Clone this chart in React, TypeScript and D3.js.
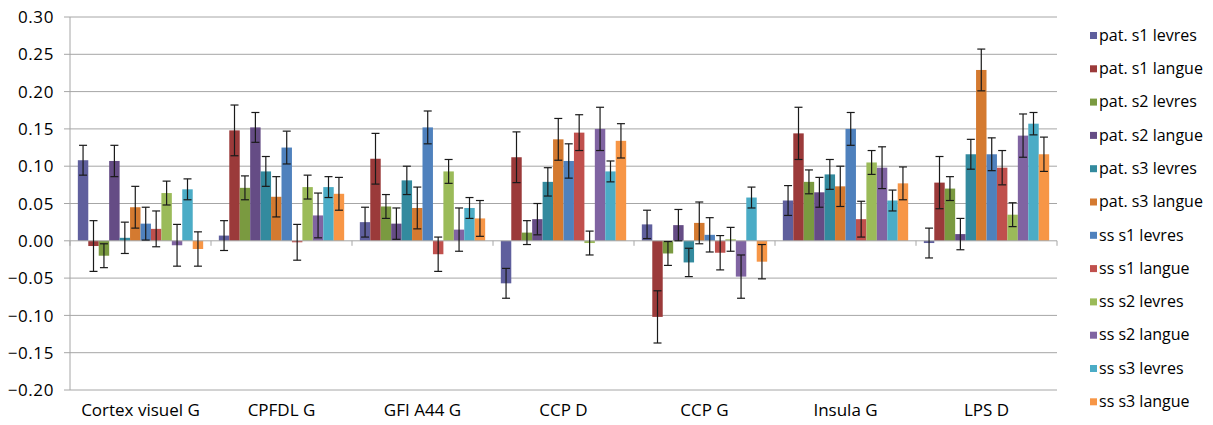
import React from "react";
import * as d3 from "d3";

const categories = ["Cortex visuel G", "CPFDL G", "GFI A44 G", "CCP D", "CCP G", "Insula G", "LPS D"];
const seriesNames = [
  "pat. s1 levres", "pat. s1 langue", "pat. s2 levres", "pat. s2 langue",
  "pat. s3 levres", "pat. s3 langue", "ss s1 levres", "ss s1 langue",
  "ss s2 levres", "ss s2 langue", "ss s3 levres", "ss s3 langue",
];
const colors = [
  "#5F5F9D", "#9B3A3A", "#7A9A40", "#654C85", "#338A9E", "#D47A30",
  "#4F81BD", "#C0504D", "#9BBB59", "#8064A2", "#4BACC6", "#F79646",
];
// values[series][category]
const values = [
  [0.108, 0.007, 0.025, -0.057, 0.022, 0.054, -0.003],
  [-0.007, 0.148, 0.110, 0.112, -0.102, 0.144, 0.078],
  [-0.020, 0.071, 0.046, 0.011, -0.017, 0.079, 0.070],
  [0.107, 0.152, 0.023, 0.029, 0.021, 0.065, 0.009],
  [0.004, 0.093, 0.081, 0.079, -0.029, 0.089, 0.116],
  [0.045, 0.059, 0.044, 0.136, 0.024, 0.073, 0.229],
  [0.023, 0.125, 0.152, 0.107, 0.008, 0.150, 0.116],
  [0.016, -0.002, -0.018, 0.145, -0.016, 0.029, 0.098],
  [0.064, 0.072, 0.093, -0.003, 0.002, 0.105, 0.035],
  [-0.006, 0.034, 0.015, 0.150, -0.048, 0.098, 0.141],
  [0.069, 0.072, 0.044, 0.093, 0.058, 0.054, 0.157],
  [-0.011, 0.063, 0.030, 0.134, -0.028, 0.077, 0.116],
];
const errors = [
  [0.020, 0.020, 0.020, 0.020, 0.019, 0.020, 0.020],
  [0.034, 0.034, 0.034, 0.034, 0.035, 0.035, 0.035],
  [0.016, 0.016, 0.016, 0.016, 0.016, 0.016, 0.016],
  [0.021, 0.020, 0.021, 0.021, 0.021, 0.020, 0.021],
  [0.021, 0.020, 0.019, 0.019, 0.019, 0.020, 0.020],
  [0.028, 0.027, 0.028, 0.028, 0.028, 0.027, 0.028],
  [0.022, 0.022, 0.022, 0.023, 0.023, 0.022, 0.022],
  [0.024, 0.024, 0.023, 0.024, 0.023, 0.024, 0.023],
  [0.016, 0.016, 0.016, 0.016, 0.016, 0.016, 0.016],
  [0.028, 0.030, 0.029, 0.029, 0.029, 0.028, 0.029],
  [0.014, 0.014, 0.014, 0.014, 0.014, 0.014, 0.015],
  [0.023, 0.022, 0.024, 0.023, 0.023, 0.022, 0.023],
];
const yTicks = [0.3, 0.25, 0.2, 0.15, 0.1, 0.05, 0, -0.05, -0.1, -0.15, -0.2];

const W = 1213, H = 425;
const plot = { left: 70, right: 1057, top: 17, bottom: 390 };
const FONT = "'Open Sans', sans-serif";

export default function App() {
  const y = d3.scaleLinear().domain([-0.2, 0.3]).range([plot.bottom, plot.top]);
  const x0 = d3.scaleBand<string>().domain(categories).range([plot.left, plot.right]).paddingInner(0).paddingOuter(0);
  const bw = x0.bandwidth() / (seriesNames.length + 1.5);
  const x1 = d3.scaleBand<number>().domain(d3.range(seriesNames.length)).range([0.75 * bw, x0.bandwidth() - 0.75 * bw]).padding(0);
  const fmt = d3.format(".2f");
  const zeroY = y(0);
  const grid = "#A6A6A6";

  return (
    <div style={{ position: "absolute", left: 0, top: 0 }}>
      <svg width={W} height={H} style={{ display: "block", background: "#fff" }} fontFamily={FONT}>
        {yTicks.map((t) => (
          <g key={t}>
            {t !== 0 && <line x1={plot.left} x2={plot.right} y1={y(t)} y2={y(t)} stroke={grid} strokeWidth={1} />}
            <line x1={plot.left - 6} x2={plot.left} y1={y(t)} y2={y(t)} stroke={grid} strokeWidth={1} />
            <text x={54} y={y(t)} dy="0.36em" textAnchor="end" fontSize={17} letterSpacing={0.6} fill="#000">{fmt(t)}</text>
          </g>
        ))}
        <line x1={plot.left} x2={plot.left} y1={plot.top} y2={plot.bottom} stroke={grid} strokeWidth={1} />
        {categories.map((c, ci) =>
          seriesNames.map((s, si) => {
            const v = values[si][ci];
            const bx = (x0(c) as number) + (x1(si) as number);
            return (
              <rect key={c + s} x={bx} width={bw} y={Math.min(y(v), zeroY)} height={Math.max(Math.abs(y(v) - zeroY), 0.5)} fill={colors[si]} />
            );
          })
        )}
        <line x1={plot.left} x2={plot.right} y1={zeroY} y2={zeroY} stroke={grid} strokeWidth={1} />
        {categories.map((c) => (
          <line key={"t" + c} x1={(x0(c) as number)} x2={(x0(c) as number)} y1={zeroY} y2={zeroY + 5} stroke={grid} />
        ))}
        <line x1={plot.right} x2={plot.right} y1={zeroY} y2={zeroY + 5} stroke={grid} />
        {categories.map((c, ci) =>
          seriesNames.map((s, si) => {
            const v = values[si][ci];
            const e = errors[si][ci];
            const cx = (x0(c) as number) + (x1(si) as number) + bw / 2;
            const cap = 4;
            return (
              <g key={"e" + c + s} stroke="#1a1a1a" strokeWidth={1.2}>
                <line x1={cx} x2={cx} y1={y(v + e)} y2={y(v - e)} />
                <line x1={cx - cap} x2={cx + cap} y1={y(v + e)} y2={y(v + e)} />
                <line x1={cx - cap} x2={cx + cap} y1={y(v - e)} y2={y(v - e)} />
              </g>
            );
          })
        )}
        {categories.map((c) => (
          <text key={"l" + c} x={(x0(c) as number) + x0.bandwidth() / 2} y={416} textAnchor="middle" fontSize={17} fill="#000">{c}</text>
        ))}
        {seriesNames.map((s, i) => {
          const ly = 35 + i * 33.3;
          return (
            <g key={"leg" + s}>
              <rect x={1090} y={ly - 3} width={7} height={7} fill={colors[i]} />
              <text x={1099} y={ly} dy="0.36em" fontSize={16} fill="#000">{s}</text>
            </g>
          );
        })}
      </svg>
    </div>
  );
}
